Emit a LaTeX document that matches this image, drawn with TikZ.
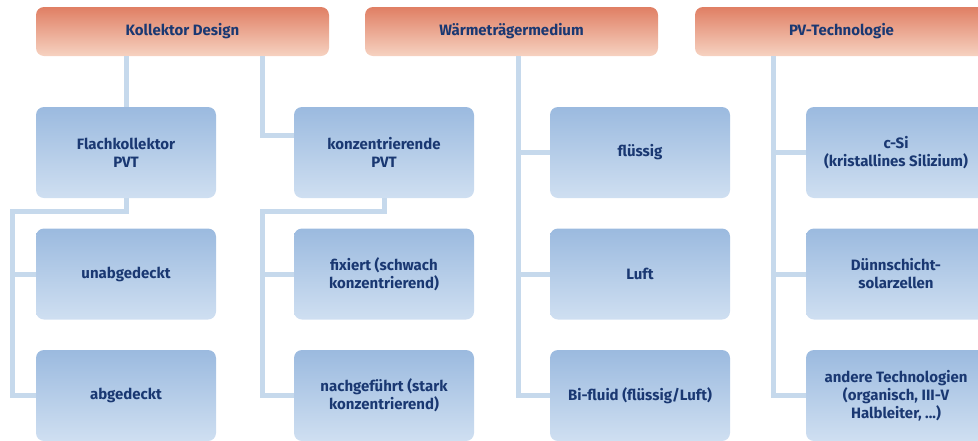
\documentclass[tikz,border=0pt]{standalone}
\usepackage{fontspec}
\setmainfont{Fira Sans}
\usepackage{tikz}
\usetikzlibrary{calc, positioning}

\definecolor{headtop}{HTML}{E07F64}
\definecolor{headbot}{HTML}{F6D2C1}
\definecolor{itemtop}{HTML}{9BBADF}
\definecolor{itembot}{HTML}{CFDFF1}
\definecolor{linec}{HTML}{C6D9EC}
\definecolor{txt}{HTML}{1A3872}

\begin{document}
\begin{tikzpicture}[
      x=1pt, y=-1pt,
      head/.style={rounded corners=8pt, top color=headtop, bottom color=headbot, minimum width=293pt,
        minimum height=49pt, inner sep=0pt, text=txt, font=\fontsize{15}{18}\selectfont\bfseries},
      item/.style={rounded corners=8pt, top color=itemtop, bottom color=itembot, minimum width=180pt,
        minimum height=91pt, inner sep=0pt, align=center, text=txt, font=\fontsize{15}{18}\selectfont\bfseries},
      conn/.style={draw=linec, line width=5pt}
    ]
      \clip (0,0) rectangle (978,440);
      \useasboundingbox (0,0) rectangle (978,440);

% Top row
      \node[head] (kd) at (182.5,31.5) {Kollektor Design};
      \node[head] (wm) at (511.5,31.5) {Wärmeträgermedium};
      \node[head] (pv) at (841.5,31.5) {PV-Technologie};

% Kollektor Design
      \node[item] (flach) at (126,152.5) {Flachkollektor\\PVT};
      \node[item] (konz) at (384,152.5) {konzentrierende\\PVT};
      \node[item] (unab) at (126,274) {unabgedeckt};
      \node[item] (abged) at (126,395.5) {abgedeckt};
      \node[item] (fix) at (384,274) {fixiert (schwach\\konzentrierend)};
      \node[item] (nach) at (384,395.5) {nachgeführt (stark\\konzentrierend)};

% Waermetraegermedium
      \node[item] (fluessig) at (640,152.5) {flüssig};
      \node[item] (luft) at (640,274) {Luft};
      \node[item] (bifluid) at (640,395.5) {Bi-fluid (flüssig/Luft)};

% PV-Technologie
      \node[item] (csi) at (896,152.5) {c-Si\\(kristallines Silizium)};
      \node[item] (duenn) at (896,274) {Dünnschicht-\\solarzellen};
      \node[item] (andere) at (896,395.5) {andere Technologien\\(organisch, III-V\\Halbleiter, ...)};

% Connectors
      \coordinate (kdb) at (262,56);
      \coordinate (fj) at (12.5,211);
      \coordinate (kj) at (262,211);
      \coordinate (wj) at (518,56);
      \coordinate (pj) at (773,56);

      \draw[conn] (flach |- kd.south) -- (flach.north);
      \draw[conn] (kdb) |- ([yshift=17pt]konz.west);

      \draw[conn] (flach.south) |- (fj) |- (abged.west);
      \draw[conn] (fj |- unab.west) -- (unab.west);
      \draw[conn] (konz.south) |- (kj) |- (nach.west);
      \draw[conn] (kj |- fix.west) -- (fix.west);

      \draw[conn] (wj) |- (bifluid.west);
      \draw[conn] (wj |- fluessig.west) -- (fluessig.west);
      \draw[conn] (wj |- luft.west) -- (luft.west);

      \draw[conn] (pj) |- (andere.west);
      \draw[conn] (pj |- csi.west) -- (csi.west);
      \draw[conn] (pj |- duenn.west) -- (duenn.west);
    \end{tikzpicture}
\end{document}
